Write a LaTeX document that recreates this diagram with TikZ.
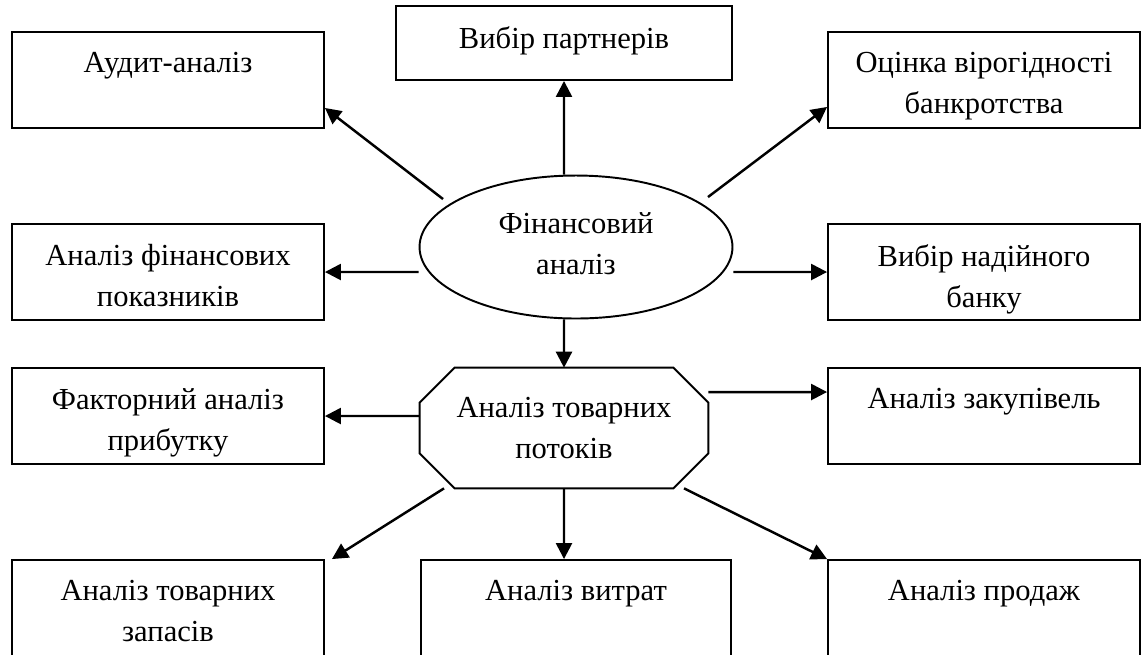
\documentclass[tikz,border=0pt]{standalone}
\usepackage{fontspec}
\setmainfont{Liberation Serif}
\usetikzlibrary{shapes.geometric,arrows.meta}

\tikzset{
  blok/.style={draw, line width=1.1pt, rectangle, inner sep=0pt,
    minimum width=6.24cm, minimum height=1.92cm},
  napys/.style={anchor=north, yshift=-0.42cm, align=center, inner sep=0pt},
  strilka/.style={line width=1.4pt, -{Triangle[length=0.32cm,width=0.32cm]}}
}

\begin{document}
\begin{tikzpicture}[x=0.02cm, y=-0.02cm,
    font=\fontsize{17.4}{23.4}\selectfont]
        \useasboundingbox (0,0) rectangle (1141,654);
        \clip (0,0) rectangle (1141,654);

        % centre
        \node[draw, line width=1.1pt, ellipse, inner sep=0pt,
              minimum width=6.26cm, minimum height=2.86cm] (fin) at (576,247) {};
        \node[napys] at ([yshift=1.12cm]fin.center) {Фінансовий\\аналіз};
        \node[align=center, inner sep=0pt,
              minimum width=5.76cm, minimum height=2.4cm] (tovar) at (564,428)
              {Аналіз товарних\\потоків};
        \draw [line width=1.1pt] ([xshift=0.7cm]tovar.north west) -- ([xshift=-0.7cm]tovar.north east)
            -- ([yshift=-0.7cm]tovar.north east) -- ([yshift=0.7cm]tovar.south east)
            -- ([xshift=-0.7cm]tovar.south east) -- ([xshift=0.7cm]tovar.south west)
            -- ([yshift=0.7cm]tovar.south west) -- ([yshift=-0.7cm]tovar.north west) -- cycle;

        % boxes
        \node[blok] (audyt) at (168,80) {};
        \node[napys] at (audyt.north) {Аудит-аналіз};
        \node[blok, minimum width=6.72cm, minimum height=1.48cm] (partner) at (564,43) {};
        \node[napys] at (partner.north) {Вибір партнерів};
        \node[blok] (ocinka) at (984,80) {};
        \node[napys] at (ocinka.north) {Оцінка вірогідності\\банкротства};
        \node[blok] (pokaz) at (168,272) {};
        \node[napys] at (pokaz.north) {Аналіз фінансових\\показників};
        \node[blok] (bank) at (984,272) {};
        \node[napys] at (bank.north) {Вибір надійного\\банку};
        \node[blok] (faktor) at (168,416) {};
        \node[napys] at (faktor.north) {Факторний аналіз\\прибутку};
        \node[blok] (zakup) at (984,416) {};
        \node[napys] at (zakup.north) {Аналіз закупівель};
        \node[blok] (zapas) at (168,608) {};
        \node[napys] at (zapas.north) {Аналіз товарних\\запасів};
        \node[blok, minimum width=6.2cm] (vytr) at (576,608) {};
        \node[napys] at (vytr.north) {Аналіз витрат};
        \node[blok] (prodazh) at (984,608) {};
        \node[napys] at (prodazh.north) {Аналіз продаж};

        % arrows
        \draw [strilka] ([xshift=-2.66cm,yshift=-0.49cm]fin.north) -- ([yshift=0.42cm]audyt.south east);
        \draw [strilka] ([xshift=-0.24cm]fin.north) -- (partner.south);
        \draw [strilka] ([xshift=2.64cm,yshift=-0.45cm]fin.north) -- ([yshift=0.44cm]ocinka.south west);
        \draw [strilka] ([yshift=-0.5cm]fin.west) -- (pokaz.east);
        \draw [strilka] ([yshift=-0.5cm]fin.east) -- (bank.west);
        \draw [strilka] ([xshift=-0.24cm]fin.south) -- (tovar.north);

        \draw [strilka] ([yshift=0.24cm]tovar.west) -- (faktor.east);
        \draw [strilka] ([yshift=0.72cm]tovar.east) -- ([yshift=0.48cm]zakup.west);
        \draw [strilka] ([xshift=-2.4cm]tovar.south) -- ([xshift=0.14cm]zapas.north east);
        \draw [strilka] (tovar.south) -- ([xshift=-0.24cm]vytr.north);
        \draw [strilka] ([xshift=2.4cm]tovar.south) -- (prodazh.north west);
\end{tikzpicture}
\end{document}
